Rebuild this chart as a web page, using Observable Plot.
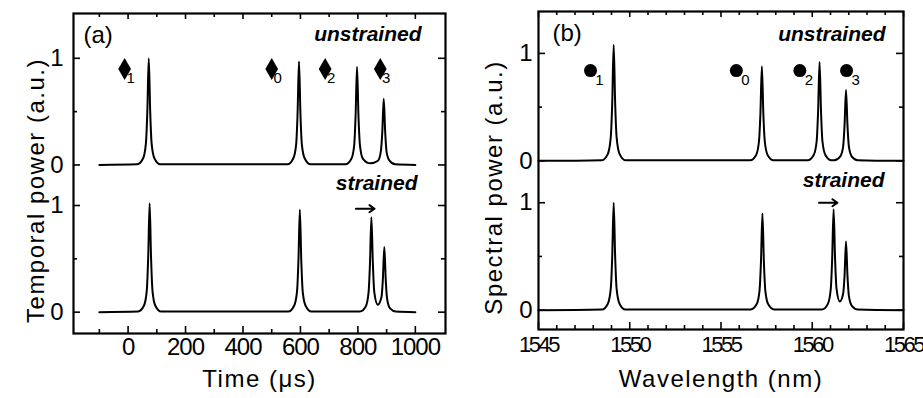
<!DOCTYPE html>
<html><head><meta charset="utf-8">
<script src="https://cdn.jsdelivr.net/npm/d3@7"></script>
<script src="https://cdn.jsdelivr.net/npm/@observablehq/plot@0.6"></script>
<style>
body{margin:0;background:#fff;}
#chart{display:flex;width:923px;height:398px;overflow:hidden;}
#chart svg{font-family:"Liberation Sans",Arial,sans-serif;overflow:visible;}
</style></head><body><div id="chart"></div>
<script>
// ---------- Panel (a): temporal power vs time ----------
const timeUnstrainedX = [-100, 32, 52, 62, 67, 72, 77, 82, 92, 112, 555, 575, 585, 590, 595, 600, 605, 615, 635, 757, 777, 787, 792, 797, 802, 807, 817, 843, 870, 880, 885, 890, 895, 900, 910, 930, 1000];
const timeUnstrainedY = [0, 0.006, 0.06, 0.2, 0.5, 1.0, 0.5, 0.2, 0.06, 0.006, 0.006, 0.06, 0.19, 0.48, 0.97, 0.48, 0.19, 0.06, 0.006, 0.006, 0.055, 0.18, 0.46, 0.92, 0.46, 0.19, 0.06, 0.015, 0.04, 0.13, 0.31, 0.62, 0.31, 0.12, 0.04, 0.006, 0];
const timeStrainedX = [-100, 35, 55, 65, 70, 75, 80, 85, 95, 115, 558, 578, 588, 593, 598, 603, 608, 618, 638, 807, 827, 837, 842, 847, 852, 857, 869, 882, 887, 892, 897, 902, 912, 932, 1000];
const timeStrainedY = [0, 0.006, 0.06, 0.2, 0.51, 1.02, 0.51, 0.2, 0.06, 0.006, 0.006, 0.06, 0.19, 0.48, 0.96, 0.48, 0.19, 0.06, 0.006, 0.006, 0.05, 0.18, 0.45, 0.89, 0.47, 0.19, 0.07, 0.14, 0.31, 0.61, 0.3, 0.12, 0.036, 0.006, 0];
const timeMarkerX = [-12, 500, 686, 878];
const timeMarkerLevel = 0.9;
const markerSubs = ["1", "0", "2", "3"];
const timeMajorTicks = [0, 200, 400, 600, 800, 1000];
const timeMinorTicks = [-100, 100, 300, 500, 700, 900];
const timeArrow = {x1: 793, x2: 858, y: 0.97};

// ---------- Panel (b): spectral power vs wavelength ----------
const wlUnstrainedX = [1545, 1548.48, 1548.8, 1548.96, 1549.04, 1549.12, 1549.2, 1549.28, 1549.44, 1549.76, 1556.6, 1556.92, 1557.08, 1557.16, 1557.24, 1557.32, 1557.4, 1557.56, 1557.88, 1559.76, 1560.08, 1560.24, 1560.32, 1560.4, 1560.48, 1560.56, 1560.72, 1561.04, 1561.21, 1561.53, 1561.69, 1561.77, 1561.85, 1561.93, 1562.01, 1562.17, 1562.49, 1565];
const wlUnstrainedY = [0, 0.006, 0.065, 0.22, 0.54, 1.08, 0.54, 0.22, 0.065, 0.006, 0.006, 0.053, 0.18, 0.44, 0.88, 0.44, 0.18, 0.053, 0.006, 0.006, 0.055, 0.18, 0.46, 0.92, 0.46, 0.18, 0.055, 0.006, 0.006, 0.04, 0.13, 0.33, 0.66, 0.33, 0.13, 0.04, 0.006, 0];
const wlStrainedX = [1545, 1548.48, 1548.8, 1548.96, 1549.04, 1549.12, 1549.2, 1549.28, 1549.44, 1549.76, 1556.63, 1556.95, 1557.11, 1557.19, 1557.27, 1557.35, 1557.43, 1557.59, 1557.91, 1560.53, 1560.85, 1561.01, 1561.09, 1561.17, 1561.25, 1561.33, 1561.51, 1561.69, 1561.77, 1561.85, 1561.93, 1562.01, 1562.17, 1562.49, 1565];
const wlStrainedY = [0, 0.006, 0.06, 0.2, 0.5, 1.0, 0.5, 0.2, 0.06, 0.006, 0.006, 0.054, 0.18, 0.45, 0.9, 0.45, 0.18, 0.054, 0.006, 0.006, 0.056, 0.19, 0.47, 0.94, 0.48, 0.2, 0.08, 0.15, 0.32, 0.64, 0.32, 0.13, 0.04, 0.006, 0];
const wlMarkerX = [1547.85, 1555.84, 1559.32, 1561.88];
const wlMarkerLevel = 0.84;
const wlMajorTicks = [1545, 1550, 1555, 1560, 1565];
const wlMinorTicks = [1546, 1547, 1548, 1549, 1551, 1552, 1553, 1554, 1556, 1557, 1558, 1559, 1561, 1562, 1563, 1564];
const wlArrow = {x1: 1560.37, x2: 1561.38, y: 1.0};

const yTickLabels = ["0", "1"];
const stateLabels = ["unstrained", "strained"];

function panel(o) {
  const H = 398;
  const innerH = H - o.mt - o.mb;
  const innerW = o.width - o.ml - o.mr;
  const off = o.offset;
  const yMajor = [0, 1, off, off + 1];
  const yMajorText = [yTickLabels[0], yTickLabels[1], yTickLabels[0], yTickLabels[1]];
  const yMinor = [0.5, off + 0.5];
  const ink = "#000";
  const svg = Plot.plot({
    width: o.width, height: H,
    marginLeft: o.ml, marginRight: o.mr, marginTop: o.mt, marginBottom: o.mb,
    x: {domain: o.xDomain, axis: null},
    y: {domain: o.yDomain, axis: null},
    marks: [
      // inward ticks on all four sides
      Plot.tickX(o.xMajor, {x: d => d, insetTop: innerH - 7, stroke: ink, strokeWidth: 1.6}),
      Plot.tickX(o.xMajor, {x: d => d, insetBottom: innerH - 6, stroke: ink, strokeWidth: 1.6}),
      Plot.tickX(o.xMinor, {x: d => d, insetTop: innerH - 4, stroke: ink, strokeWidth: 1.6}),
      Plot.tickX(o.xMinor, {x: d => d, insetBottom: innerH - 4, stroke: ink, strokeWidth: 1.6}),
      Plot.tickY(yMajor, {y: d => d, insetRight: innerW - 7, stroke: ink, strokeWidth: 1.6}),
      Plot.tickY(yMajor, {y: d => d, insetLeft: innerW - 7, stroke: ink, strokeWidth: 1.6}),
      Plot.tickY(yMinor, {y: d => d, insetRight: innerW - 4, stroke: ink, strokeWidth: 1.6}),
      Plot.tickY(yMinor, {y: d => d, insetLeft: innerW - 4, stroke: ink, strokeWidth: 1.6}),
      Plot.frame({stroke: ink, strokeWidth: 2.2}),
      // tick labels
      Plot.text(o.xMajor, {x: d => d, text: d => String(d), frameAnchor: "bottom", lineAnchor: "top", dy: o.xLabelDy, fontSize: o.xtlSize, fill: ink, className: "xtl"}),
      Plot.text(yMajor, {y: d => d, text: (d, i) => yMajorText[i], frameAnchor: "left", textAnchor: "end", dx: o.yLabelDx, fontSize: 24, fill: ink}),
      // axis titles
      Plot.text([o.xTitle], {text: d => d, frameAnchor: "bottom", textAnchor: "middle", lineAnchor: "middle", dy: o.xTitleDy, fontSize: 24, fill: ink, className: "ttl"}),
      Plot.text([o.yTitle], {text: d => d, frameAnchor: "left", rotate: -90, textAnchor: "middle", lineAnchor: "middle", dx: o.yTitleDx, dy: o.yTitleDy, fontSize: 24, fill: ink, className: "ttl"}),
      // traces
      Plot.line(o.lowerX, {x: o.lowerX, y: o.lowerY, curve: "monotone-x", stroke: ink, strokeWidth: 2, strokeLinejoin: "round"}),
      Plot.line(o.upperX, {x: o.upperX, y: o.upperY.map(v => v + off), curve: "monotone-x", stroke: ink, strokeWidth: 2, strokeLinejoin: "round"}),
      // markers with subscripts
      Plot.dot(o.markerX, {x: d => d, y: () => o.markerLevel + off, symbol: o.symbol, r: o.r, fill: ink, stroke: "none"}),
      Plot.text(o.markerX, {x: d => d, y: () => o.markerLevel + off, text: (d, i) => markerSubs[i], dx: o.subDx, dy: o.subDy, fontSize: 15, fill: ink}),
      // state labels
      Plot.text([stateLabels[0]], {text: d => d, y: () => o.unstrainedY, frameAnchor: "right", textAnchor: "end", dx: o.unstrainedDx, fontSize: 21, fontWeight: "bold", fontStyle: "italic", fill: ink}),
      Plot.text([stateLabels[1]], {text: d => d, y: () => o.strainedY, frameAnchor: "right", textAnchor: "end", dx: o.strainedDx, fontSize: 21, fontWeight: "bold", fontStyle: "italic", fill: ink}),
      // arrow showing shift
      Plot.arrow([o.arrow], {x1: "x1", x2: "x2", y1: "y", y2: "y", stroke: ink, strokeWidth: 2, headLength: 9, headAngle: 70}),
      // panel tag
      Plot.text([o.tag], {text: d => d, frameAnchor: "top-left", lineAnchor: "top", dx: o.tagDx, dy: 12, fontSize: 24, fill: ink})
    ]
  });
  d3.select(svg).selectAll(".xtl text").style("letter-spacing", o.xtlSpacing);
  d3.select(svg).selectAll(".ttl text").style("letter-spacing", "1.5px");
  return svg;
}

const chart = document.getElementById("chart");
chart.append(panel({
  width: 461, ml: 73, mr: 16, mt: 13, mb: 65,
  xDomain: [-190, 1105], yDomain: [-0.2, 2.8], offset: 1.38,
  upperX: timeUnstrainedX, upperY: timeUnstrainedY,
  lowerX: timeStrainedX, lowerY: timeStrainedY,
  xMajor: timeMajorTicks, xMinor: timeMinorTicks,
  markerX: timeMarkerX, markerLevel: timeMarkerLevel, symbol: "diamond", r: 6.7,
  subDx: 6, subDy: 9,
  unstrainedY: 2.61, unstrainedDx: -24, strainedY: 1.21, strainedDx: -28,
  arrow: timeArrow, tag: "(a)", tagDx: 10,
  xLabelDy: 4, yLabelDx: -10, xTitleDy: 46, yTitleDx: -37, yTitleDy: 17,
  xTitle: "Time (\u03bcs)", yTitle: "Temporal power (a.u.)", xtlSize: 24, xtlSpacing: "-1px"
}));
chart.append(panel({
  width: 462, ml: 77, mr: 20, mt: 11, mb: 69,
  xDomain: [1545, 1565], yDomain: [-0.18, 2.78], offset: 1.39,
  upperX: wlUnstrainedX, upperY: wlUnstrainedY,
  lowerX: wlStrainedX, lowerY: wlStrainedY,
  xMajor: wlMajorTicks, xMinor: wlMinorTicks,
  markerX: wlMarkerX, markerLevel: wlMarkerLevel, symbol: "circle", r: 6.5,
  subDx: 9, subDy: 10,
  unstrainedY: 2.57, unstrainedDx: -18, strainedY: 1.21, strainedDx: -19,
  arrow: wlArrow, tag: "(b)", tagDx: 14,
  xLabelDy: 7, yLabelDx: -6, xTitleDy: 50, yTitleDx: -44, yTitleDy: 17,
  xTitle: "Wavelength (nm)", yTitle: "Spectral power (a.u.)", xtlSize: 22, xtlSpacing: "-2.5px"
}));
</script></body></html>
